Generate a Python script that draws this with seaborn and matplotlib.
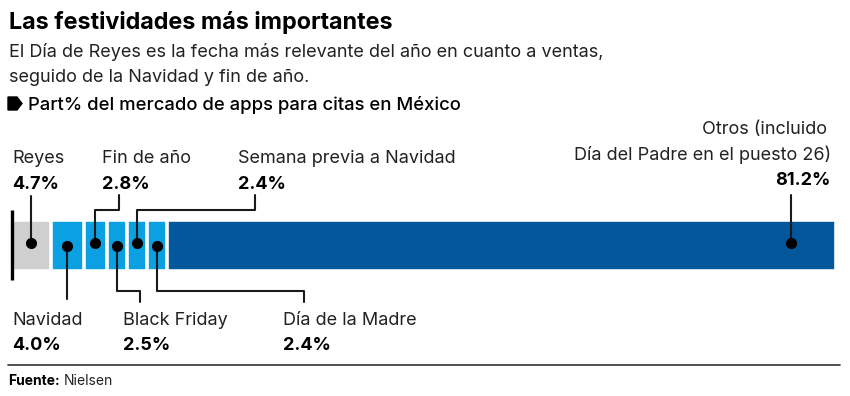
"""
Las festividades mas importantes
- single stacked bar (share of dating-app market by holiday)
- labels with leader lines above and below the bar
"""

import seaborn as sns
import pandas as pd
import matplotlib.pyplot as plt
from matplotlib.patches import Polygon

# Data
segments = ['Reyes', 'Navidad', 'Fin de año', 'Black Friday',
            'Semana previa a Navidad', 'Día de la Madre', 'Otros']
shares = [4.7, 4.0, 2.8, 2.5, 2.4, 2.4, 81.2]
value_labels = ['4.7%', '4.0%', '2.8%', '2.5%', '2.4%', '2.4%', '81.2%']
colors = ['#cfcfcf', '#0aa0e2', '#0aa0e2', '#0aa0e2', '#0aa0e2', '#0aa0e2', '#04579b']

df = pd.DataFrame({'segment': segments, 'share': shares, 'color': colors})
df['end'] = df['share'].cumsum()
df['start'] = df['end'] - df['share']
df['mid'] = df['start'] + df['share'] / 2
df['row'] = 'share'

sns.set_theme(style='white')
plt.rcParams['font.family'] = ['Inter', 'DejaVu Sans']

W, H = 850, 396
fig = plt.figure(figsize=(W / 100, H / 100), dpi=100)

# bar axes (0..100 mapped onto the bar area)
ax = fig.add_axes([12 / W, (H - 270.5) / H, 824 / W, 51 / H])
# stacked bar: draw cumulative totals from the largest to the smallest
for _, r in df.iloc[::-1].iterrows():
    sns.barplot(x=[r['end']], y=[r['row']], color=r['color'], width=0.8,
                edgecolor='white', linewidth=2.6, saturation=1, ax=ax)
ax.set_xlim(0, 100)
ax.set_ylim(0.4, -0.4)
ax.axis('off')

# overlay axes in pixel coordinates for texts and leaders
ov = fig.add_axes([0, 0, 1, 1], zorder=3)
ov.set_xlim(0, W)
ov.set_ylim(H, 0)
ov.axis('off')
ov.patch.set_alpha(0)


def px(xval):
    # pixel x of a data value on the bar
    disp = ax.transData.transform((xval, 0))
    return ov.transData.inverted().transform(disp)[0]


ink = '#1a1a1a'
lw = 1.5
fs = 13

# axis line at the start of the bar
ov.plot([12, 12], [210, 280], color='black', lw=2.4, solid_capstyle='butt')

# Header
ov.text(9, 29, 'Las festividades más importantes', fontsize=16.8,
        fontweight='bold', color='black', va='baseline')
ov.text(9, 57, 'El Día de Reyes es la fecha más relevante del año en cuanto a ventas,',
        fontsize=fs, color='#222222', va='baseline')
ov.text(9, 82, 'seguido de la Navidad y fin de año.',
        fontsize=fs, color='#222222', va='baseline')
ov.add_patch(Polygon([(8, 97), (17, 97), (22, 103.5), (17, 110), (8, 110)],
                     closed=True, color='black'))
ov.text(28, 110, 'Part% del mercado de apps para citas en México', fontsize=13.3,
        fontweight='medium', color='black', va='baseline')

# Labels above the bar
up = {
    'Reyes': (12, None),
    'Fin de año': (102, 119),
    'Semana previa a Navidad': (238, 255),
}
for name, (tx, bend) in up.items():
    r = df[df['segment'] == name].iloc[0]
    cx = px(r['mid'])
    if bend is None:
        ov.plot([cx, cx], [243, 196], color=ink, lw=lw)
    else:
        ov.plot([cx, cx, bend, bend], [243, 210, 210, 195], color=ink, lw=lw)
    ov.plot(cx, 243, 'o', color='black', ms=7)
    ov.text(tx, 163, name, fontsize=fs, color='#222222', va='baseline')
    ov.text(tx, 189, value_labels[segments.index(name)], fontsize=fs,
            fontweight='bold', color='black', va='baseline')

# Labels below the bar
down = {
    'Navidad': (12, None),
    'Black Friday': (123, 140),
    'Día de la Madre': (283, 304),
}
for name, (tx, bend) in down.items():
    r = df[df['segment'] == name].iloc[0]
    cx = px(r['mid'])
    if bend is None:
        ov.plot([cx, cx], [246, 299], color=ink, lw=lw)
    else:
        ov.plot([cx, cx, bend, bend], [246, 291, 291, 302], color=ink, lw=lw)
    ov.plot(cx, 246, 'o', color='black', ms=7)
    ov.text(tx, 325, name, fontsize=fs, color='#222222', va='baseline')
    ov.text(tx, 350, value_labels[segments.index(name)], fontsize=fs,
            fontweight='bold', color='black', va='baseline')

# Otros
ox = 791
ov.plot([ox, ox], [195, 243], color=ink, lw=lw)
ov.plot(ox, 243, 'o', color='black', ms=7)
ov.text(827, 134, 'Otros (incluido', fontsize=fs, color='#222222',
        ha='right', va='baseline')
ov.text(831, 160, 'Día del Padre en el puesto 26)', fontsize=fs, color='#222222',
        ha='right', va='baseline')
ov.text(831, 185, value_labels[-1], fontsize=fs, fontweight='bold',
        color='black', ha='right', va='baseline')

# Footer
ov.plot([8, 840], [365, 365], color='#333333', lw=1.2)
ov.text(8, 385, 'Fuente:', fontsize=10, fontweight='bold',
        color='black', va='baseline')
ov.text(64, 385, 'Nielsen', fontsize=10, color='#222222', va='baseline')

plt.savefig('out.png', dpi=100)
